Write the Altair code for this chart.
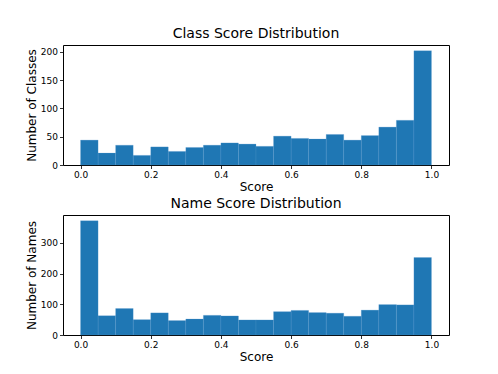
import altair as alt
import pandas as pd

bin_edges = [round(i * 0.05, 2) for i in range(21)]
class_counts = [44, 21, 35, 17, 32, 24, 31, 35, 39, 37, 33, 51, 47, 46, 54, 44, 52, 67, 79, 202]
name_counts = [372, 63, 86, 50, 72, 47, 52, 64, 62, 49, 49, 76, 80, 73, 71, 61, 81, 99, 98, 252]
x_ticks = [0.0, 0.2, 0.4, 0.6, 0.8, 1.0]
class_y_ticks = [0, 50, 100, 150, 200]
name_y_ticks = [0, 100, 200, 300]


def make_df(counts):
    return pd.DataFrame({
        "start": bin_edges[:-1],
        "end": bin_edges[1:],
        "count": counts,
    })


def hist(counts, title, ytitle, yticks, ymax):
    return (
        alt.Chart(make_df(counts))
        .mark_bar(color="#1f77b4", stroke="#5a9bd0", strokeWidth=0.4, strokeOpacity=0.6)
        .encode(
            x=alt.X("start:Q", scale=alt.Scale(domain=[-0.05, 1.05], nice=False, zero=False),
                    axis=alt.Axis(values=x_ticks, format=".1f", title="Score")),
            x2="end:Q",
            y=alt.Y("count:Q", scale=alt.Scale(domain=[0, ymax], nice=False),
                    axis=alt.Axis(values=yticks, title=ytitle)),
            y2=alt.datum(0),
        )
        .properties(width=386, height=120,
                    title=alt.TitleParams(title, fontSize=14, font="DejaVu Sans",
                                          fontWeight="normal", offset=4, color="black"))
    )


top = hist(class_counts, "Class Score Distribution", "Number of Classes", class_y_ticks, 212.1)
bottom = hist(name_counts, "Name Score Distribution", "Number of Names", name_y_ticks, 390.6)

chart = (
    alt.vconcat(top, bottom, spacing=3)
    .properties(padding={"top": 18, "left": 16, "right": 5, "bottom": 5})
    .configure_view(stroke="black", strokeWidth=1)
    .configure_axis(
        grid=False, domain=False,
        tickColor="black", tickSize=3.5, tickWidth=0.8,
        labelFont="DejaVu Sans", labelFontSize=9, labelColor="black", labelPadding=2,
        titleFont="DejaVu Sans", titleFontSize=12, titleFontWeight="normal",
        titleColor="black", titlePadding=2,
    )
)

chart.save("out.html", embed_options={"renderer": "svg", "actions": False})
